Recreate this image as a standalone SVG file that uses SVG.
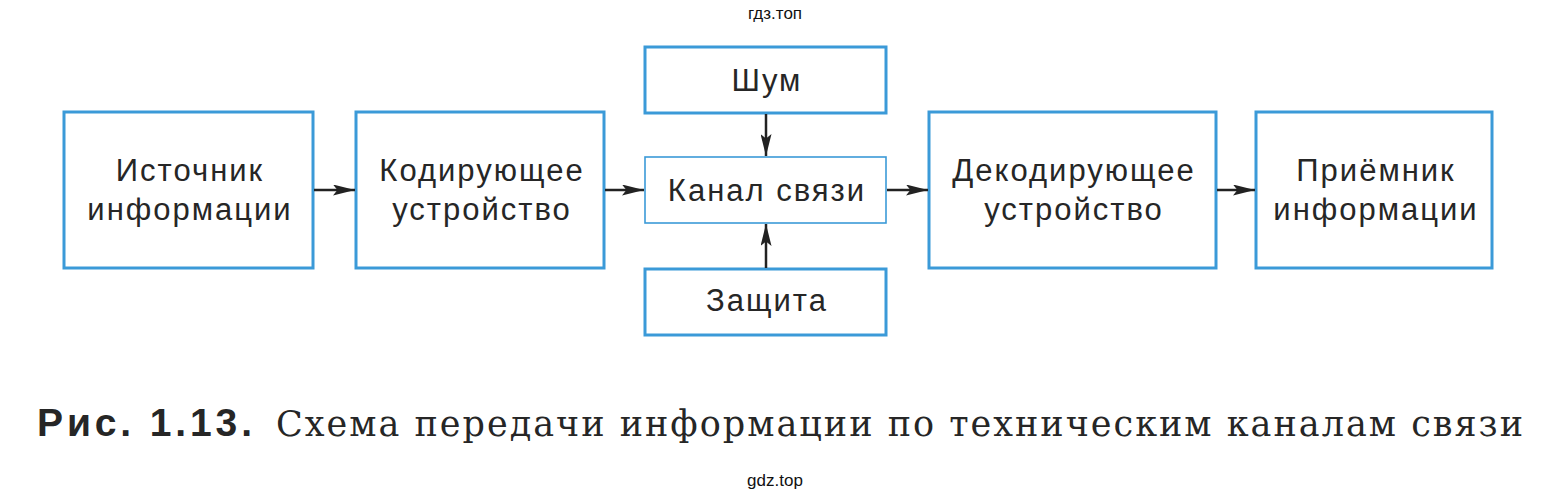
<svg xmlns="http://www.w3.org/2000/svg" width="1551" height="500" viewBox="0 0 1551 500">
<style>
.box{fill:#fff;stroke:#3b9ad8;stroke-width:3}
.thin{fill:#fff;stroke:#3b9ad8;stroke-width:1.6}
.t{font-family:"Liberation Sans",Arial,sans-serif;font-size:31px;fill:#262626;text-anchor:middle;letter-spacing:2px}
.wm{font-family:"Liberation Sans",Arial,sans-serif;font-size:17px;fill:#111;text-anchor:middle}
.c{stroke:#222;stroke-width:2.5;fill:none}
.cb{font-family:"Liberation Sans",Arial,sans-serif;font-weight:bold;font-size:39px;fill:#262626}
.cs{font-family:"DejaVu Serif","Liberation Serif",serif;font-size:35px;fill:#262626}
</style>
<defs>
<marker id="a" viewBox="0 0 20 10" refX="20" refY="5" markerWidth="22" markerHeight="11" markerUnits="userSpaceOnUse" orient="auto">
<path d="M0,0 L20,5 L0,10 L4,5 z" fill="#222"/>
</marker>
</defs>
<text class="wm" x="775" y="19">гдз.топ</text>
<g id="source"><rect class="box" x="64" y="112" width="249" height="156"/><text class="t" x="190" y="181">Источник</text><text class="t" x="190" y="220">информации</text></g>
<g id="encoder"><rect class="box" x="356" y="112" width="248" height="156"/><text class="t" x="482" y="181">Кодирующее</text><text class="t" x="482" y="220">устройство</text></g>
<g id="noise"><rect class="box" x="645" y="47" width="241" height="66"/><text class="t" x="767" y="91">Шум</text></g>
<g id="channel"><rect class="thin" x="645" y="157" width="241" height="66"/><text class="t" x="767" y="201">Канал связи</text></g>
<g id="protection"><rect class="box" x="645" y="269" width="241" height="66"/><text class="t" x="767" y="311">Защита</text></g>
<g id="decoder"><rect class="box" x="929" y="112" width="287" height="156"/><text class="t" x="1074" y="181">Декодирующее</text><text class="t" x="1074" y="220">устройство</text></g>
<g id="receiver"><rect class="box" x="1256" y="112" width="236" height="156"/><text class="t" x="1376" y="181">Приёмник</text><text class="t" x="1376" y="220">информации</text></g>
<g id="connectors">
<line class="c" x1="314" y1="190" x2="355" y2="190" marker-end="url(#a)"/>
<line class="c" x1="605" y1="190" x2="644" y2="190" marker-end="url(#a)"/>
<line class="c" x1="887" y1="190" x2="928" y2="190" marker-end="url(#a)"/>
<line class="c" x1="1217" y1="190" x2="1255" y2="190" marker-end="url(#a)"/>
<line class="c" x1="766" y1="114" x2="766" y2="156" marker-end="url(#a)"/>
<line class="c" x1="766" y1="268" x2="766" y2="224" marker-end="url(#a)"/>
</g>
<text class="cb" x="37" y="436" textLength="215" lengthAdjust="spacing">Рис. 1.13.</text>
<text class="cs" x="276" y="436" textLength="1247" lengthAdjust="spacing">Схема передачи информации по техническим каналам связи</text>
<text class="wm" x="775" y="486">gdz.top</text>
</svg>
